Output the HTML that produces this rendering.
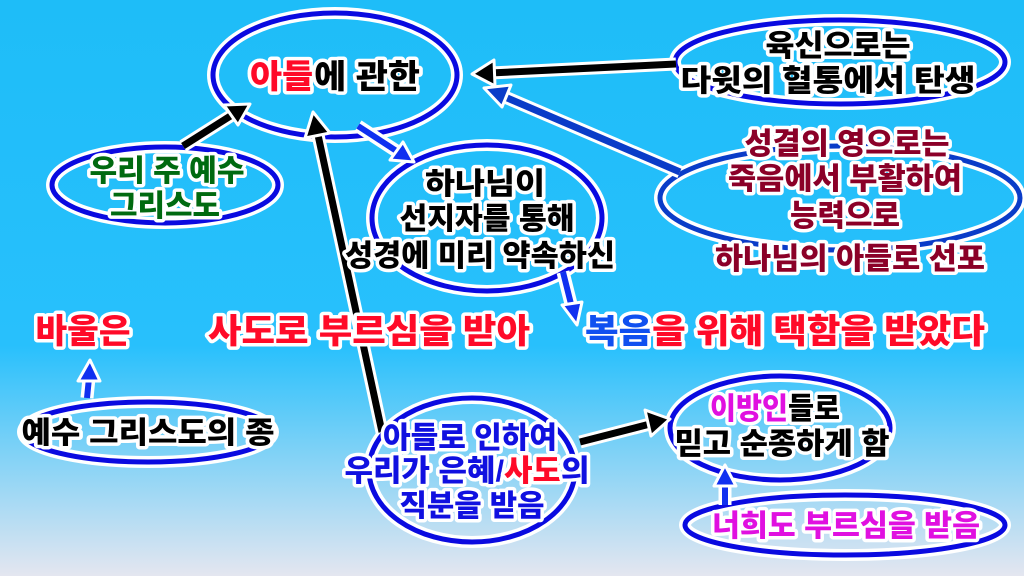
<!DOCTYPE html>
<html><head><meta charset="utf-8"><style>
html,body{margin:0;padding:0;width:1024px;height:576px;overflow:hidden}
svg{display:block}
text{font-family:"Liberation Sans","Noto Sans CJK KR",sans-serif;font-weight:900;paint-order:stroke;stroke:#fff;stroke-width:7px;stroke-linejoin:round;text-anchor:middle}
</style></head><body>
<svg width="1024" height="576" viewBox="0 0 1024 576" xmlns="http://www.w3.org/2000/svg">
<defs>
<linearGradient id="bg" x1="0" y1="0" x2="0" y2="1">
<stop offset="0" stop-color="#1ebdf8"/><stop offset="0.6" stop-color="#28c0fc"/><stop offset="1" stop-color="#e4e6f0"/>
</linearGradient>
</defs>
<rect width="1024" height="576" fill="url(#bg)"/>
<g fill="none">
<g stroke="#fff" stroke-width="12">
<ellipse cx="335" cy="75" rx="122" ry="62"/>
<ellipse cx="840" cy="62" rx="165" ry="42"/>
<ellipse cx="165" cy="185" rx="113" ry="38"/>
<ellipse cx="487" cy="218" rx="115" ry="73"/>
<ellipse cx="840" cy="198" rx="180" ry="52"/>
<ellipse cx="148" cy="432" rx="125" ry="30"/>
<ellipse cx="472" cy="470" rx="103" ry="72"/>
<ellipse cx="780" cy="428" rx="110" ry="52"/>
<ellipse cx="845" cy="525" rx="160" ry="30"/>
</g>
<g stroke="#0a0ae0" stroke-width="5">
<ellipse cx="335" cy="75" rx="122" ry="62"/>
<ellipse cx="840" cy="62" rx="165" ry="42"/>
<ellipse cx="165" cy="185" rx="113" ry="38"/>
<ellipse cx="487" cy="218" rx="115" ry="73"/>
<ellipse cx="840" cy="198" rx="180" ry="52" stroke="#0a3cc8"/>
<ellipse cx="148" cy="432" rx="125" ry="30"/>
<ellipse cx="472" cy="470" rx="103" ry="72"/>
<ellipse cx="780" cy="428" rx="110" ry="52"/>
<ellipse cx="845" cy="525" rx="160" ry="30"/>
</g>
</g>
<g stroke-linecap="butt">
<g stroke="#fff" stroke-width="13">
<line x1="676" y1="64" x2="490" y2="73"/>
<line x1="183" y1="146" x2="232" y2="115"/>
<line x1="382" y1="432" x2="318" y2="135"/>
<line x1="580" y1="442" x2="650" y2="424"/>
<line x1="358" y1="126" x2="398" y2="152"/>
<line x1="563" y1="272" x2="572" y2="308"/>
<line x1="87" y1="398" x2="89" y2="378"/>
<line x1="725" y1="505" x2="725" y2="482"/>
<line x1="680" y1="172" x2="505" y2="97"/>
</g>
<line x1="676" y1="64" x2="490" y2="73" stroke="#000" stroke-width="7"/>
<line x1="183" y1="146" x2="232" y2="115" stroke="#000" stroke-width="7"/>
<line x1="382" y1="432" x2="318" y2="135" stroke="#000" stroke-width="7"/>
<line x1="580" y1="442" x2="650" y2="424" stroke="#000" stroke-width="7"/>
<line x1="358" y1="126" x2="398" y2="152" stroke="#1030f0" stroke-width="6"/>
<line x1="563" y1="272" x2="572" y2="308" stroke="#1030f0" stroke-width="6"/>
<line x1="87" y1="398" x2="89" y2="378" stroke="#1030f0" stroke-width="6"/>
<line x1="725" y1="505" x2="725" y2="482" stroke="#1030f0" stroke-width="6"/>
<line x1="680" y1="172" x2="505" y2="97" stroke="#0a3cc8" stroke-width="7"/>
<g stroke="#fff" stroke-width="3" stroke-linejoin="round">
<polygon points="472,74 494,60 495,86" fill="#000"/>
<polygon points="250,104 224,105 238,125" fill="#000"/>
<polygon points="313,112 305,138 330,133" fill="#000"/>
<polygon points="670,419 645,410 651,436" fill="#000"/>
<polygon points="414,162 390,160 403,142" fill="#1030f0"/>
<polygon points="577,325 562,305 582,302" fill="#1030f0"/>
<polygon points="90,360 78,381 100,381" fill="#1030f0"/>
<polygon points="725,465 714,486 736,486" fill="#1030f0"/>
<polygon points="484,88 511,85 502,107" fill="#0a3cc8"/>
</g>
</g>
<g font-size="30">
<text x="335" y="88" font-size="33" textLength="170" lengthAdjust="spacingAndGlyphs"><tspan fill="#ff0a28">아들</tspan><tspan fill="#000">에 관한</tspan></text>
<text x="838" y="56" fill="#000" textLength="145" lengthAdjust="spacingAndGlyphs">육신으로는</text>
<text x="828" y="91" fill="#000" textLength="295" lengthAdjust="spacingAndGlyphs">다윗의 혈통에서 탄생</text>
<text x="167" y="181" fill="#006a10" textLength="155" lengthAdjust="spacingAndGlyphs">우리 주 예수</text>
<text x="165" y="216" fill="#006a10" textLength="110" lengthAdjust="spacingAndGlyphs">그리스도</text>
<text x="485" y="194" fill="#000" textLength="120" lengthAdjust="spacingAndGlyphs">하나님이</text>
<text x="487" y="229" fill="#000" textLength="175" lengthAdjust="spacingAndGlyphs">선지자를 통해</text>
<text x="480" y="266" fill="#000" textLength="270" lengthAdjust="spacingAndGlyphs">성경에 미리 약속하신</text>
<text x="847" y="154" fill="#8b0028" textLength="205" lengthAdjust="spacingAndGlyphs">성결의 영으로는</text>
<text x="845" y="189" fill="#8b0028" textLength="234" lengthAdjust="spacingAndGlyphs">죽음에서 부활하여</text>
<text x="845" y="226" fill="#8b0028" textLength="110" lengthAdjust="spacingAndGlyphs">능력으로</text>
<text x="850" y="269" fill="#8b0028" textLength="270" lengthAdjust="spacingAndGlyphs">하나님의 아들로 선포</text>
<text x="148" y="443" fill="#000" textLength="253" lengthAdjust="spacingAndGlyphs">예수 그리스도의 종</text>
<text x="470" y="448" fill="#1010e0" textLength="174" lengthAdjust="spacingAndGlyphs">아들로 인하여</text>
<text x="467" y="481" fill="#1010e0" textLength="245" lengthAdjust="spacingAndGlyphs">우리가 은혜/<tspan fill="#ff0a28">사도</tspan>의</text>
<text x="472" y="516" fill="#1010e0" textLength="145" lengthAdjust="spacingAndGlyphs">직분을 받음</text>
<text x="775" y="419" fill="#e010e0" textLength="130" lengthAdjust="spacingAndGlyphs">이방인<tspan fill="#000">들로</tspan></text>
<text x="782" y="454" fill="#000" textLength="215" lengthAdjust="spacingAndGlyphs">믿고 순종하게 함</text>
<text x="846" y="536" fill="#e010e0" textLength="268" lengthAdjust="spacingAndGlyphs">너희도 부르심을 받음</text>
</g>
<g font-size="34">
<text x="83" y="343" fill="#ff0a28" textLength="95" lengthAdjust="spacingAndGlyphs">바울은</text>
<text x="369" y="343" fill="#ff0a28" textLength="322" lengthAdjust="spacingAndGlyphs">사도로 부르심을 받아</text>
<text x="785" y="343" fill="#ff0a28" textLength="400" lengthAdjust="spacingAndGlyphs"><tspan fill="#1050f0">복음</tspan>을 위해 택함을 받았다</text>
</g>
</svg>
</body></html>
